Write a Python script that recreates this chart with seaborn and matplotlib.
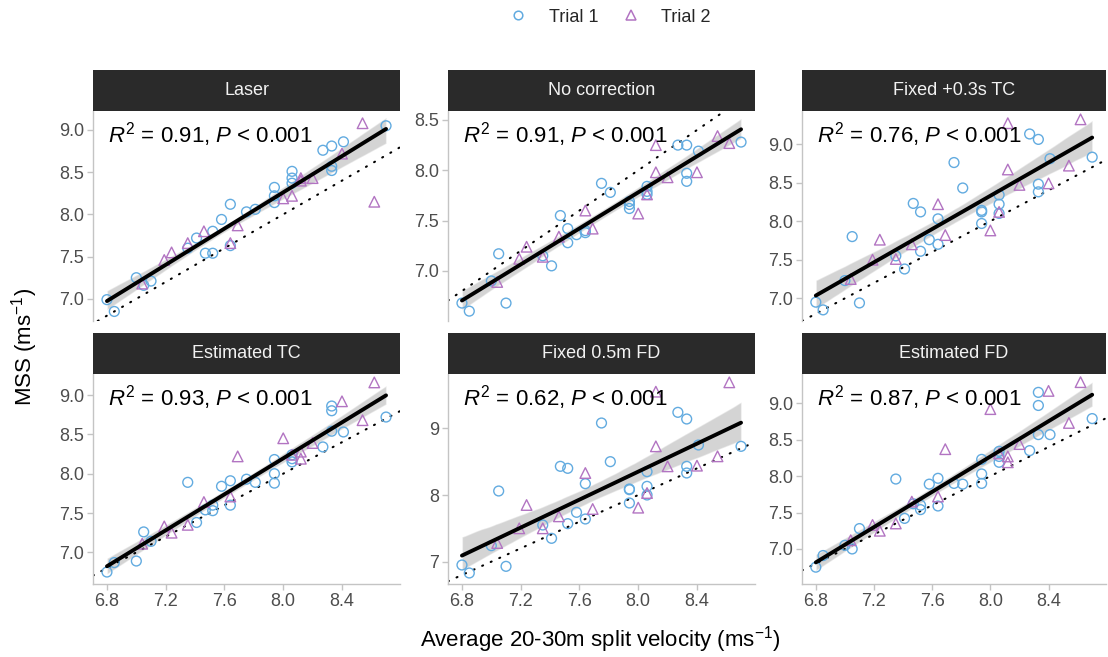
import numpy as np
import pandas as pd
import matplotlib
matplotlib.use("Agg")
import matplotlib.pyplot as plt
import seaborn as sns
from matplotlib.lines import Line2D

# ---------------- data ----------------
panel_titles = ["Laser", "No correction", "Fixed +0.3s TC",
                "Estimated TC", "Fixed 0.5m FD", "Estimated FD"]
r2_labels = ["0.91", "0.91", "0.76", "0.93", "0.62", "0.87"]

trial_names = ["Trial 1", "Trial 2"]

# average 20-30 m split velocity (shared by all panels)
x_trial1 = [6.80, 6.85, 7.00, 7.05, 7.10, 7.35, 7.41, 7.47, 7.52, 7.52, 7.58,
            7.64, 7.64, 7.75, 7.81, 7.94, 7.94, 7.94, 8.06, 8.06, 8.06, 8.27,
            8.33, 8.33, 8.33, 8.41, 8.70]
x_trial2 = [7.04, 7.19, 7.24, 7.35, 7.46, 7.64, 7.69, 8.00, 8.06, 8.12, 8.12,
            8.20, 8.40, 8.54, 8.62]

# MSS per method
laser_t1 = [6.99, 6.85, 7.25, 7.16, 7.21, 7.60, 7.72, 7.54, 7.54, 7.80, 7.94,
            8.12, 7.63, 8.03, 8.06, 8.32, 8.22, 8.14, 8.51, 8.43, 8.37, 8.76,
            8.81, 8.52, 8.57, 8.86, 9.05]
laser_t2 = [7.18, 7.46, 7.55, 7.66, 7.80, 7.66, 7.87, 8.19, 8.22, 8.43, 8.40,
            8.43, 8.72, 9.08, 8.15]

nocorr_t1 = [6.68, 6.60, 6.90, 7.17, 6.68, 7.15, 7.05, 7.55, 7.42, 7.28, 7.36,
             7.38, 7.40, 7.87, 7.78, 7.69, 7.62, 7.66, 7.84, 7.79, 7.76, 8.25,
             8.25, 7.97, 7.89, 8.19, 8.28]
nocorr_t2 = [6.89, 7.12, 7.24, 7.14, 7.34, 7.60, 7.42, 7.57, 7.76, 8.25, 7.98,
             7.93, 7.98, 8.34, 8.27]

fixtc_t1 = [6.95, 6.85, 7.23, 7.80, 6.94, 7.55, 7.38, 8.23, 8.12, 7.61, 7.76,
            8.03, 7.70, 8.76, 8.43, 8.14, 8.12, 7.97, 8.34, 8.22, 8.10, 9.13,
            9.06, 8.48, 8.38, 8.81, 8.83]
fixtc_t2 = [7.25, 7.50, 7.76, 7.51, 7.70, 8.22, 7.82, 7.88, 8.12, 9.27, 8.67,
            8.47, 8.49, 8.72, 9.32]

esttc_t1 = [6.75, 6.87, 6.89, 7.26, 7.14, 7.89, 7.38, 7.54, 7.53, 7.60, 7.84,
            7.91, 7.60, 7.93, 7.89, 8.18, 8.00, 7.88, 8.15, 8.24, 8.19, 8.34,
            8.86, 8.80, 8.54, 8.53, 8.72]
esttc_t2 = [7.11, 7.33, 7.25, 7.35, 7.64, 7.71, 8.22, 8.45, 8.24, 8.19, 8.28,
            8.39, 8.92, 8.68, 9.16]

fixfd_t1 = [6.95, 6.83, 7.24, 8.06, 6.93, 7.55, 7.35, 8.43, 8.40, 7.57, 7.74,
            8.17, 7.64, 9.08, 8.50, 8.09, 8.08, 7.88, 8.35, 8.13, 8.00, 9.24,
            9.14, 8.43, 8.33, 8.75, 8.73]
fixfd_t2 = [7.28, 7.50, 7.85, 7.50, 7.68, 8.33, 7.79, 7.81, 8.03, 8.73, 9.55,
            8.43, 8.44, 8.58, 9.69]

estfd_t1 = [6.75, 6.91, 7.05, 7.00, 7.28, 7.96, 7.42, 7.62, 7.54, 7.60, 7.89,
            7.97, 7.59, 7.90, 7.89, 8.23, 8.03, 7.90, 8.34, 8.19, 8.27, 8.35,
            9.15, 8.97, 8.57, 8.57, 8.79]
estfd_t2 = [7.12, 7.33, 7.25, 7.35, 7.65, 7.72, 8.37, 8.92, 8.31, 8.27, 8.19,
            8.44, 9.17, 8.73, 9.29]

y_trial1 = [laser_t1, nocorr_t1, fixtc_t1, esttc_t1, fixfd_t1, estfd_t1]
y_trial2 = [laser_t2, nocorr_t2, fixtc_t2, esttc_t2, fixfd_t2, estfd_t2]

x_ticks = [6.8, 7.2, 7.6, 8.0, 8.4]
y_ticks = [[7.0, 7.5, 8.0, 8.5, 9.0],
           [7.0, 7.5, 8.0, 8.5],
           [7.0, 7.5, 8.0, 8.5, 9.0],
           [7.0, 7.5, 8.0, 8.5, 9.0],
           [7, 8, 9],
           [7.0, 7.5, 8.0, 8.5, 9.0]]
y_tick_fmt = ["%.1f", "%.1f", "%.1f", "%.1f", "%d", "%.1f"]
y_limits = [(6.737, 9.225), (6.502, 8.589), (6.706, 9.428),
            (6.598, 9.267), (6.665, 9.815), (6.519, 9.402)]
x_limits = (6.705, 8.795)

# ---------------- style ----------------
sns.set_theme(style="ticks")
plt.rcParams["font.family"] = ["Liberation Sans", "DejaVu Sans"]
plt.rcParams["mathtext.fontset"] = "custom"
plt.rcParams["mathtext.rm"] = "Liberation Sans"
plt.rcParams["mathtext.it"] = "Liberation Sans:italic"
plt.rcParams["mathtext.bf"] = "Liberation Sans:bold"

col_blue = "#62ABE0"
col_purple = "#B274C2"
axis_grey = "#c4c4c4"
tick_text = "#4d4d4d"
strip_col = "#2a2a2a"

W, H = 1108, 657
fig = plt.figure(figsize=(W / 100, H / 100), dpi=100)

col_left = [93, 448, 802]
col_width = [307, 307, 304]
row_top = [111, 374]
panel_h = 210
strip_h = 41

for i, title in enumerate(panel_titles):
    r, c = divmod(i, 3)
    l = col_left[c] / W
    w = col_width[c] / W
    b = 1 - (row_top[r] + panel_h) / H
    h = panel_h / H
    ax = fig.add_axes([l, b, w, h])
    sax = fig.add_axes([l, 1 - row_top[r] / H, w, strip_h / H])

    df = pd.DataFrame({
        "x": x_trial1 + x_trial2,
        "y": y_trial1[i] + y_trial2[i],
        "trial": [trial_names[0]] * len(x_trial1) + [trial_names[1]] * len(x_trial2),
    })

    # identity line
    ax.axline((7.0, 7.0), slope=1, color="black", lw=1.5,
              linestyle=(0, (0.5, 4.0)), dash_capstyle="round", zorder=2)

    # regression line with 95% CI
    sns.regplot(data=df, x="x", y="y", scatter=False, ax=ax, color="black",
                ci=95, n_boot=1000, seed=3, truncate=True,
                line_kws=dict(lw=2.8, zorder=5))
    for coll in ax.collections:
        coll.set_facecolor("#999999")
        coll.set_alpha(0.42)
        coll.set_zorder(1)

    # points
    for tname, mk, colr, sz in [(trial_names[0], "o", col_blue, 50),
                                (trial_names[1], "^", col_purple, 58)]:
        sub = df[df["trial"] == tname]
        sns.regplot(data=sub, x="x", y="y", fit_reg=False, ax=ax, marker=mk,
                    color=colr,
                    scatter_kws=dict(s=sz, facecolors="none", edgecolors=colr,
                                     linewidths=1.0, alpha=1, zorder=3))

    ax.set_xlim(*x_limits)
    ax.set_ylim(*y_limits[i])
    ax.set_xlabel("")
    ax.set_ylabel("")
    ax.set_yticks(y_ticks[i])
    ax.set_yticklabels([y_tick_fmt[i] % v for v in y_ticks[i]])
    ax.set_xticks(x_ticks)
    ax.set_xticklabels(["%.1f" % v for v in x_ticks])
    for s in ["top", "right"]:
        ax.spines[s].set_visible(False)
    ax.spines["left"].set_color(axis_grey)
    ax.spines["left"].set_linewidth(1.0)
    ax.spines["bottom"].set_color(axis_grey)
    ax.spines["bottom"].set_linewidth(1.0)
    ax.tick_params(axis="both", colors=axis_grey, labelcolor=tick_text,
                   labelsize=13, length=4, width=1.0, pad=2.5)
    if r == 0:
        ax.spines["bottom"].set_visible(False)
        ax.tick_params(axis="x", bottom=False, labelbottom=False)

    ax.text(0.049, 0.955, r"$R^2$ = %s, $P$ < 0.001" % r2_labels[i],
            transform=ax.transAxes, ha="left", va="top", fontsize=16,
            color="black", zorder=6)

    sax.set_facecolor(strip_col)
    sax.set_xticks([])
    sax.set_yticks([])
    for s in sax.spines.values():
        s.set_visible(False)
    sax.text(0.5, 0.5, title, transform=sax.transAxes, ha="center",
             va="center", color="#f2f2f2", fontsize=13)

fig.text(600 / W, 1 - 640 / H, r"Average 20-30m split velocity (ms$^{-1}$)",
         ha="center", va="center", fontsize=16, color="black")
fig.text(25 / W, 1 - 347 / H, r"MSS (ms$^{-1}$)", ha="center", va="center",
         rotation=90, fontsize=16, color="black")

handles = [Line2D([], [], marker="o", ls="none", mfc="none", mec=col_blue,
                  ms=6.2, mew=1.1),
           Line2D([], [], marker="^", ls="none", mfc="none", mec=col_purple,
                  ms=6.8, mew=1.1)]
fig.legend(handles, trial_names, loc="center", bbox_to_anchor=(610 / W, 1 - 17 / H),
           ncol=2, frameon=False, fontsize=13, handlelength=1.0,
           handletextpad=1.2, columnspacing=1.3)

fig.savefig("out.png", dpi=100)
